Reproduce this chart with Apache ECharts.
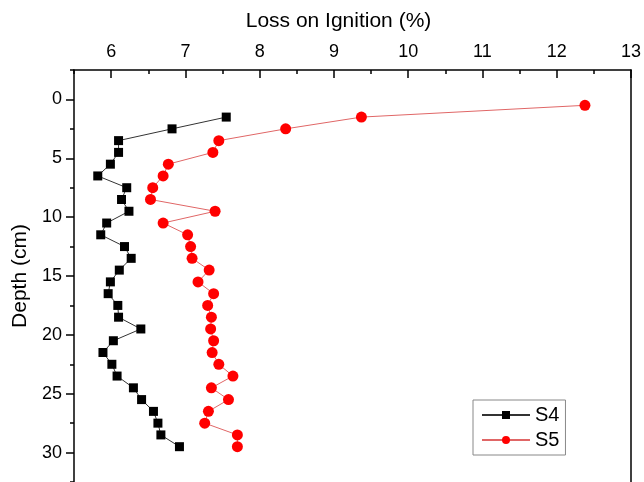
<!DOCTYPE html>
<html>
<head>
<meta charset="utf-8">
<script src="https://cdn.jsdelivr.net/npm/echarts@6/dist/echarts.min.js"></script>
<style>
  html, body { margin: 0; padding: 0; background: #fff; }
  #chart { width: 644px; height: 482px; }
</style>
</head>
<body>
<div id="chart"></div>
<script>
// depth (cm) of each sample
var depthS4 = [1.5, 2.5, 3.5, 4.5, 5.5, 6.5, 7.5, 8.5, 9.5, 10.5, 11.5, 12.5, 13.5, 14.5,
    15.5, 16.5, 17.5, 18.5, 19.5, 20.5, 21.5, 22.5, 23.5, 24.5, 25.5, 26.5, 27.5, 28.5, 29.5];
var depthS5 = [0.5, 1.5, 2.5, 3.5, 4.5, 5.5, 6.5, 7.5, 8.5, 9.5, 10.5, 11.5, 12.5, 13.5, 14.5,
    15.5, 16.5, 17.5, 18.5, 19.5, 20.5, 21.5, 22.5, 23.5, 24.5, 25.5, 26.5, 27.5, 28.5, 29.5];
// loss on ignition (%)
var loiS4 = [7.55, 6.82, 6.10, 6.10, 5.99, 5.82, 6.21, 6.14, 6.24, 5.94, 5.86, 6.18, 6.27, 6.11,
    5.99, 5.96, 6.09, 6.10, 6.40, 6.03, 5.89, 6.01, 6.08, 6.30, 6.41, 6.57, 6.63, 6.67, 6.92];
var loiS5 = [12.38, 9.37, 8.35, 7.45, 7.37, 6.77, 6.70, 6.56, 6.53, 7.40, 6.70, 7.03, 7.07, 7.09, 7.32,
    7.17, 7.38, 7.30, 7.35, 7.34, 7.38, 7.36, 7.45, 7.64, 7.35, 7.58, 7.31, 7.26, 7.70, 7.70];

var xMajor = [6, 7, 8, 9, 10, 11, 12, 13];
var xMinor = [5.5, 6.5, 7.5, 8.5, 9.5, 10.5, 11.5, 12.5];
var yMajor = [0, 5, 10, 15, 20, 25, 30];
var yMinor = [-2.5, 2.5, 7.5, 12.5, 17.5, 22.5, 27.5, 32.5];

function pairs(xs, ys) {
    var out = [];
    for (var i = 0; i < xs.length; i++) out.push([xs[i], ys[i]]);
    return out;
}

var chart = echarts.init(document.getElementById('chart'));
var FONT = 'Liberation Sans';
var axisLine = { show: true, onZero: false, lineStyle: { color: '#000', width: 1.5 } };
var noLine = { show: false, onZero: false };

var option = {
    animation: false,
    textStyle: { fontFamily: FONT },
    grid: { left: 74, top: 70, right: 11, bottom: -3 },
    legend: {
        left: 473, top: 400,
        orient: 'vertical',
        borderColor: '#888', borderWidth: 1, borderRadius: 0,
        padding: [5, 6, 5, 8],
        itemWidth: 48, itemHeight: 10, itemGap: 5,
        textStyle: { fontSize: 20, color: '#000', fontFamily: FONT },
        data: ['S4', 'S5']
    },
    xAxis: [{
        type: 'value', position: 'top', min: 5.5, max: 13,
        name: 'Loss on Ignition (%)', nameLocation: 'middle', nameGap: 38,
        nameTextStyle: { fontSize: 21, color: '#000', padding: [0, 28, 0, 0] },
        axisLine: axisLine,
        axisTick: { show: true, inside: true, length: 8, customValues: xMajor, lineStyle: { color: '#000', width: 1.5 } },
        axisLabel: { show: true, customValues: xMajor, fontSize: 18, color: '#000', margin: 9 },
        splitLine: { show: false }
    }, {
        type: 'value', position: 'top', min: 5.5, max: 13,
        axisLine: noLine,
        axisTick: { show: true, inside: true, length: 4, customValues: xMinor, lineStyle: { color: '#000', width: 1.5 } },
        axisLabel: { show: false },
        splitLine: { show: false }
    }],
    yAxis: [{
        type: 'value', inverse: true, position: 'left', min: -2.5, max: 32.5,
        name: 'Depth (cm)', nameLocation: 'middle', nameGap: 42,
        nameTextStyle: { fontSize: 21, color: '#000' },
        axisLine: axisLine,
        axisTick: { show: true, length: 8, customValues: yMajor, lineStyle: { color: '#000', width: 1.5 } },
        axisLabel: { show: true, customValues: yMajor, fontSize: 18, color: '#000', margin: 12 },
        splitLine: { show: false }
    }, {
        type: 'value', inverse: true, position: 'left', min: -2.5, max: 32.5,
        axisLine: noLine,
        axisTick: { show: true, length: 4, customValues: yMinor, lineStyle: { color: '#000', width: 1.5 } },
        axisLabel: { show: false },
        splitLine: { show: false }
    }, {
        type: 'value', inverse: true, position: 'right', min: -2.5, max: 32.5,
        axisLine: axisLine,
        axisTick: { show: false },
        axisLabel: { show: false },
        splitLine: { show: false }
    }],
    series: [{
        name: 'S4', type: 'line',
        xAxisIndex: 0, yAxisIndex: 0,
        data: pairs(loiS4, depthS4),
        symbol: 'rect', symbolSize: 9,
        itemStyle: { color: '#000' },
        lineStyle: { color: '#333', width: 1 }
    }, {
        name: 'S5', type: 'line',
        xAxisIndex: 0, yAxisIndex: 0,
        data: pairs(loiS5, depthS5),
        symbol: 'circle', symbolSize: 11,
        itemStyle: { color: '#ff0000' },
        lineStyle: { color: '#e06666', width: 1 }
    }]
};

chart.setOption(option);
</script>
</body>
</html>
